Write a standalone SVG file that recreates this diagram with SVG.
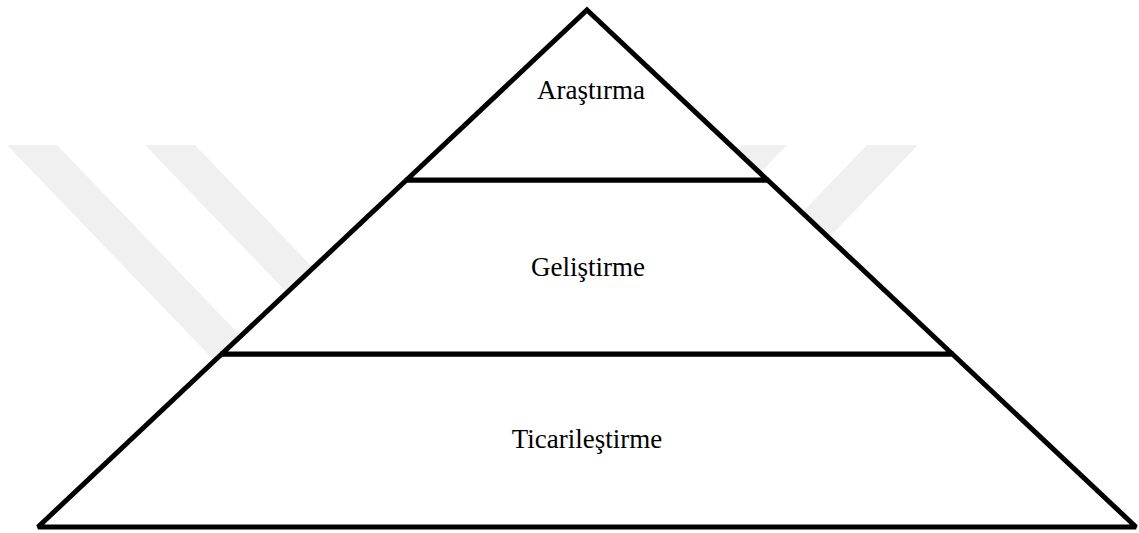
<svg xmlns="http://www.w3.org/2000/svg" width="1139" height="533" viewBox="0 0 1139 533">
<style>
.wm{fill:#f0f0f0}
.tier{fill:#ffffff;stroke:#000000;stroke-width:5;stroke-linejoin:miter;stroke-miterlimit:2}
.lbl{font-family:"Liberation Serif","Times New Roman",serif;font-size:27px;fill:#000000;text-anchor:middle}
</style>
<g id="watermark">
<polygon class="wm" points="7,145 57,145 307,405 257,405"/>
<polygon class="wm" points="145,145 195,145 445,405 395,405"/>
<polygon class="wm" points="742,145 787,145 537,405 492,405"/>
<polygon class="wm" points="867,145 918,145 668,405 617,405"/>
</g>
<g id="tier-bottom">
<polygon class="tier" points="221.7,354 952.3,354 1136,527 38,527"/>
<text class="lbl" x="587" y="448">Ticarileştirme</text>
</g>
<g id="tier-middle">
<polygon class="tier" points="406.5,180 767.5,180 952.3,354 221.7,354"/>
<text class="lbl" x="588" y="276">Geliştirme</text>
</g>
<g id="tier-top">
<polygon class="tier" points="587,10 767.5,180 406.5,180"/>
<text class="lbl" x="591" y="99">Araştırma</text>
</g>
</svg>
